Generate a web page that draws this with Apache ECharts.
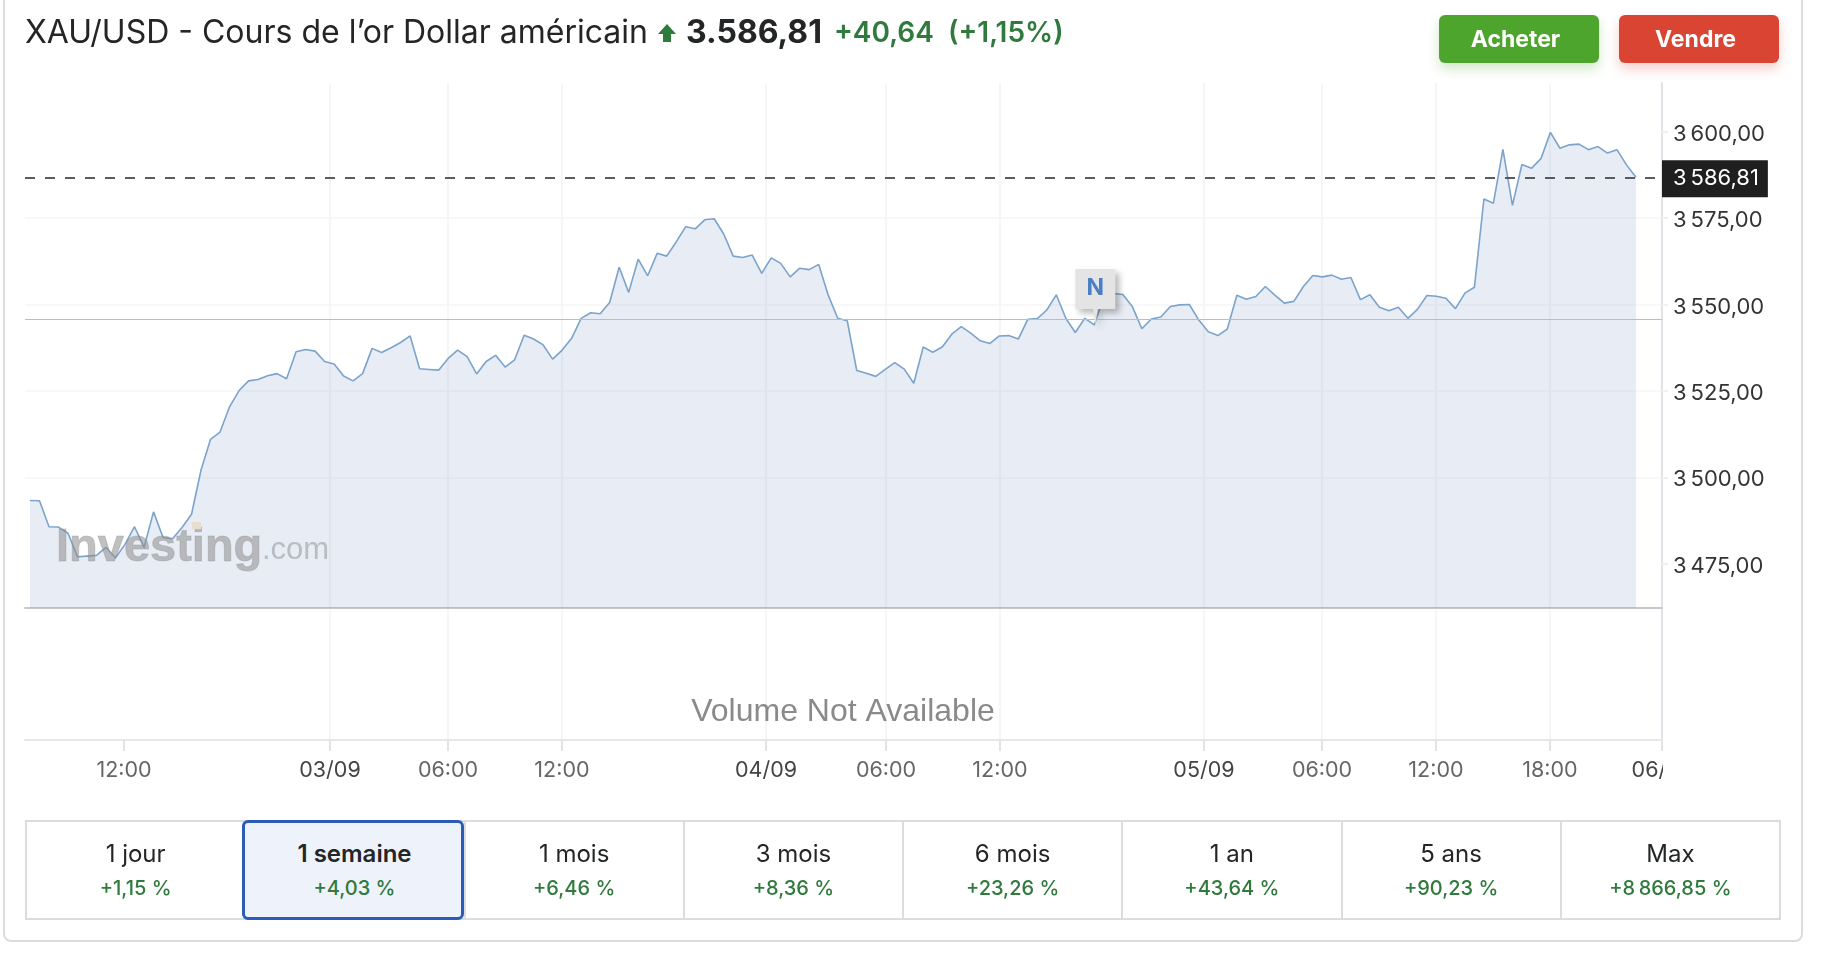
<!DOCTYPE html>
<html lang="fr">
<head>
<meta charset="utf-8">
<title>XAU/USD</title>
<script src="https://cdn.jsdelivr.net/npm/echarts@6/dist/echarts.min.js"></script>
<style>
  html,body{margin:0;padding:0;background:#fff;width:1838px;height:970px;overflow:hidden;font-family:Inter,"Noto Sans",sans-serif;}
  #card{position:absolute;left:3px;top:-20px;width:1796px;height:958px;border:2px solid #dcdcdc;border-radius:8px;box-sizing:content-box;}
  #chart{position:absolute;left:0;top:0;width:1838px;height:970px;}
  .hd{position:absolute;white-space:nowrap;line-height:36px;top:14px;}
  #title{left:25px;font-size:32px;color:#232526;}
  #arrow{left:657px;top:23px;width:20px;height:20px;}
  #last{left:686px;font-size:32px;font-weight:700;color:#232526;}
  #chg{left:834px;font-size:28px;font-weight:600;color:#2f7a3c;}
  #pct{left:948px;font-size:28px;font-weight:600;color:#2f7a3c;}
  .btn{position:absolute;top:15px;width:160px;height:48px;border-radius:6px;color:#fff;font-weight:700;font-size:23px;line-height:48px;text-align:center;text-indent:-7px;}
  #buy{left:1439px;background:#4ea52e;box-shadow:0 6px 12px rgba(78,165,46,.25);}
  #sell{left:1619px;background:#d94532;box-shadow:0 6px 12px rgba(217,69,50,.25);}
  #periods{position:absolute;left:25px;top:820px;width:1756px;height:100px;display:flex;box-sizing:border-box;border:2px solid #dcdcdc;}
  .cell{flex:1 1 0;position:relative;border-left:2px solid #dcdcdc;text-align:center;box-sizing:border-box;}
  .cell:first-child{border-left:none;}
  .cell .a{position:absolute;left:0;right:0;top:16px;font-size:24px;line-height:32px;color:#232526;}
  .cell .b{position:absolute;left:0;right:0;top:53px;font-size:20px;line-height:26px;font-weight:500;color:#2f7a3c;}
  .cell.on{position:absolute;left:214.5px;top:-2px;height:100px;width:222px;background:#eef3fb;border:3px solid #2b5cb8;border-radius:6px;flex:none;z-index:2;}
  .cell.on .a{font-weight:600;top:15px;left:4px;}
  .cell.on .b{top:52px;left:4px;}
</style>
</head>
<body>
<div id="card"></div>
<div id="chart"></div>
<div class="hd" id="title">XAU/USD - Cours de l’or Dollar américain</div>
<svg class="hd" id="arrow" viewBox="0 0 20 20"><path d="M10 1 L19 11 L14 11 L14 19 L6 19 L6 11 L1 11 Z" fill="#2f7a3c"/></svg>
<div class="hd" id="last">3.586,81</div>
<div class="hd" id="chg">+40,64</div>
<div class="hd" id="pct">(+1,15%)</div>
<div class="btn" id="buy">Acheter</div>
<div class="btn" id="sell">Vendre</div>
<div id="periods"></div>
<script>
const priceValues = [
3493.3,3493.2,3485.7,3485.6,3483.8,3477.0,3477.2,3477.4,3479.7,3476.7,
3480.6,3485.7,3479.7,3490.0,3482.6,3482.2,3485.5,3489.3,3502.1,3511.0,
3513.1,3520.4,3525.1,3527.9,3528.3,3529.4,3530.0,3528.5,3536.3,3537.0,
3536.5,3533.5,3532.8,3529.3,3527.9,3530.0,3537.3,3536.1,3537.5,3539.0,
3540.9,3531.4,3531.2,3531.0,3534.4,3536.8,3534.9,3529.9,3533.5,3535.3,
3531.9,3534.0,3541.1,3540.0,3538.3,3534.2,3536.8,3540.2,3546.0,3547.6,
3547.3,3550.6,3560.8,3553.5,3563.1,3558.3,3564.8,3564.0,3568.1,3572.5,
3571.9,3574.5,3574.8,3570.4,3564.0,3563.6,3564.3,3559.0,3563.5,3561.9,
3558.0,3560.5,3560.1,3561.6,3552.7,3546.0,3545.3,3530.9,3530.1,3529.2,
3531.2,3533.2,3531.3,3527.2,3537.7,3536.2,3537.7,3541.4,3543.6,3541.7,
3539.5,3538.7,3540.9,3541.0,3540.0,3545.7,3545.9,3548.4,3552.8,3546.0,
3541.9,3546.0,3544.1,3552.3,3553.2,3552.9,3549.4,3543.0,3545.8,3546.4,
3549.4,3549.9,3550.0,3545.5,3542.1,3541.0,3542.9,3552.7,3551.5,3552.3,
3555.2,3552.7,3550.4,3550.9,3555.2,3558.4,3558.0,3558.5,3557.3,3557.8,
3551.4,3552.8,3549.2,3548.2,3549.2,3546.0,3548.6,3552.6,3552.4,3551.8,
3548.8,3553.3,3555.0,3580.5,3579.3,3594.9,3578.7,3590.5,3589.4,3592.2,
3599.8,3595.2,3596.2,3596.4,3594.8,3595.7,3593.8,3594.8,3590.4,3586.81
];
const timeTickIndex = [9.89,31.57,43.99,55.98,77.45,90.08,102.07,123.54,135.96,147.95,159.95,171.7];
const timeTickLabels = ['12:00','03/09','06:00','12:00','04/09','06:00','12:00','05/09','06:00','12:00','18:00','06/'];
const priceTicks = [3475,3500,3525,3550,3575,3600];
const lastPrice = 3586.81;
const previousClose = 3545.8;
const newsPointIndex = 112;
const periodLabels = ['1 jour','1 semaine','1 mois','3 mois','6 mois','1 an','5 ans','Max'];
const periodChanges = ['+1,15 %','+4,03 %','+6,46 %','+8,36 %','+23,26 %','+43,64 %','+90,23 %','+8\u202f866,85 %'];
const activePeriod = 1;

const box = document.getElementById('periods');
periodLabels.forEach((label, i) => {
  const c = document.createElement('div');
  c.className = 'cell' + (i === activePeriod ? ' on' : '');
  c.innerHTML = '<div class="a">' + label + '</div><div class="b">' + periodChanges[i] + '</div>';
  box.appendChild(c);
  if (i === activePeriod) { const s = document.createElement('div'); s.className = 'cell'; box.appendChild(s); }
});

const fmtPrice = v => {
  const s = v.toFixed(2).replace('.', ',');
  return s[0] + '\u202f' + s.slice(1);
};
const font = 'Inter';
const chart = echarts.init(document.getElementById('chart'), null, {width:1838, height:970});
chart.setOption({
  animation:false,
  backgroundColor:'transparent',
  grid:[
    {left:25, width:1637, top:83, height:525},
    {left:25, width:1637, top:608, height:132}
  ],
  xAxis:[
    {type:'value', gridIndex:0, min:-0.526, max:171.74, position:'bottom',
     axisLine:{show:true, onZero:false, lineStyle:{color:'#c6c8cc', width:2}},
     axisTick:{show:false, customValues:timeTickIndex},
     axisLabel:{show:false},
     splitLine:{show:true, showMinLine:false, showMaxLine:false, lineStyle:{color:'#f3f4f6', width:1.6}}},
    {type:'value', gridIndex:1, min:-0.526, max:171.74, position:'bottom',
     axisLine:{show:true, onZero:false, lineStyle:{color:'#e6e7e9', width:2}},
     axisTick:{show:true, length:11, customValues:timeTickIndex, lineStyle:{color:'#e3e3e5', width:2}},
     axisLabel:{show:true, margin:20, customValues:timeTickIndex, hideOverlap:false,
       formatter:v => {
         const t = timeTickLabels[timeTickIndex.indexOf(v)];
         if (t === '06/') return '{c|' + t + '}';
         return (t.includes('/') ? '{d|' : '{t|') + t + '}';
       },
       rich:{
         t:{fontFamily:font, fontSize:21.5, color:'#666'},
         d:{fontFamily:font, fontSize:21.5, color:'#444'},
         c:{fontFamily:font, fontSize:21.5, color:'#444', width:60, align:'left'}
       }},
     splitLine:{show:true, showMinLine:false, showMaxLine:false, lineStyle:{color:'#f3f4f6', width:1.6}}}
  ],
  yAxis:[
    {type:'value', gridIndex:0, min:3462.18, max:3614.09, position:'right',
     axisLine:{show:true, onZero:false, lineStyle:{color:'#e2e3e9', width:2}},
     axisTick:{show:true, length:6, customValues:priceTicks, lineStyle:{color:'#f0f0f0', width:2}},
     axisLabel:{show:true, margin:11, customValues:priceTicks, fontFamily:font, fontSize:22, color:'#333', verticalAlign:'top', lineHeight:5, formatter:fmtPrice},
     splitLine:{show:true, showMinLine:false, showMaxLine:false, lineStyle:{color:'#f6f6f7', width:1.6}}},
    {type:'value', gridIndex:1, min:0, max:1, position:'right',
     axisLine:{show:true, onZero:false, lineStyle:{color:'#e2e3e9', width:2}},
     axisTick:{show:false}, axisLabel:{show:false}, splitLine:{show:false}}
  ],
  series:[{
    type:'line', xAxisIndex:0, yAxisIndex:0,
    data:priceValues.map((v,i)=>[i,v]),
    showSymbol:false, symbol:'none', smooth:false,
    lineStyle:{color:'#7ba3cb', width:1.6},
    areaStyle:{origin:'start', color:'rgba(71,111,175,0.125)', opacity:1},
    markLine:{
      silent:true, symbol:'none', animation:false,
      data:[
        {yAxis:previousClose, lineStyle:{color:'#f0a8a2', width:1, type:'solid'}, label:{show:false}},
        {yAxis:lastPrice, lineStyle:{color:'#4b4b4b', width:1.8, type:[10,10]},
         label:{show:true, position:'end', distance:0, offset:[0,1.5], formatter:()=>fmtPrice(lastPrice),
           fontFamily:font, fontSize:22, color:'#fff', backgroundColor:'#1f1f1f',
           padding:[8,9,3,11], lineHeight:26, align:'left'}}
      ]
    },
    markPoint:{
      silent:true, animation:false,
      data:[{
        coord:[newsPointIndex, priceValues[newsPointIndex]],
        symbol:'path://M0,0 L40,0 L40,40 L22,40 L20,57 L18,40 L0,40 Z',
        symbolSize:[40,57], symbolOffset:[1,-27.5], symbolKeepAspect:false,
        itemStyle:{color:'#e4e4e4', shadowBlur:6, shadowColor:'rgba(0,0,0,0.28)', shadowOffsetX:4, shadowOffsetY:4},
        label:{show:true, formatter:'N', position:'inside', offset:[0,-9], color:'#4a7fc4', fontFamily:font, fontWeight:700, fontSize:23}
      }]
    }
  }],
  graphic:[
    {type:'text', z:50, silent:true, style:{text:'Investing', x:56, y:525,
      font:'bold 47px "Liberation Sans"', fill:'rgba(140,140,140,0.55)', stroke:'rgba(140,140,140,0.35)', lineWidth:1}},
    {type:'rect', z:51, silent:true, shape:{x:192, y:522, width:9, height:7}, style:{fill:'#e6dfcf'}},
    {type:'text', z:50, silent:true, style:{text:'.com', x:262, y:535,
      font:'31px "Liberation Sans"', fill:'rgba(140,140,140,0.5)'}},
    {type:'text', z:50, silent:true, style:{text:'Volume Not Available', x:843, y:696, textAlign:'center',
      font:'32px "Liberation Sans"', fill:'#8a8a8a'}},
    {type:'rect', z:60, silent:true, shape:{x:1663, y:752, width:24, height:34}, style:{fill:'#fff'}}
  ]
});
</script>
</body>
</html>
